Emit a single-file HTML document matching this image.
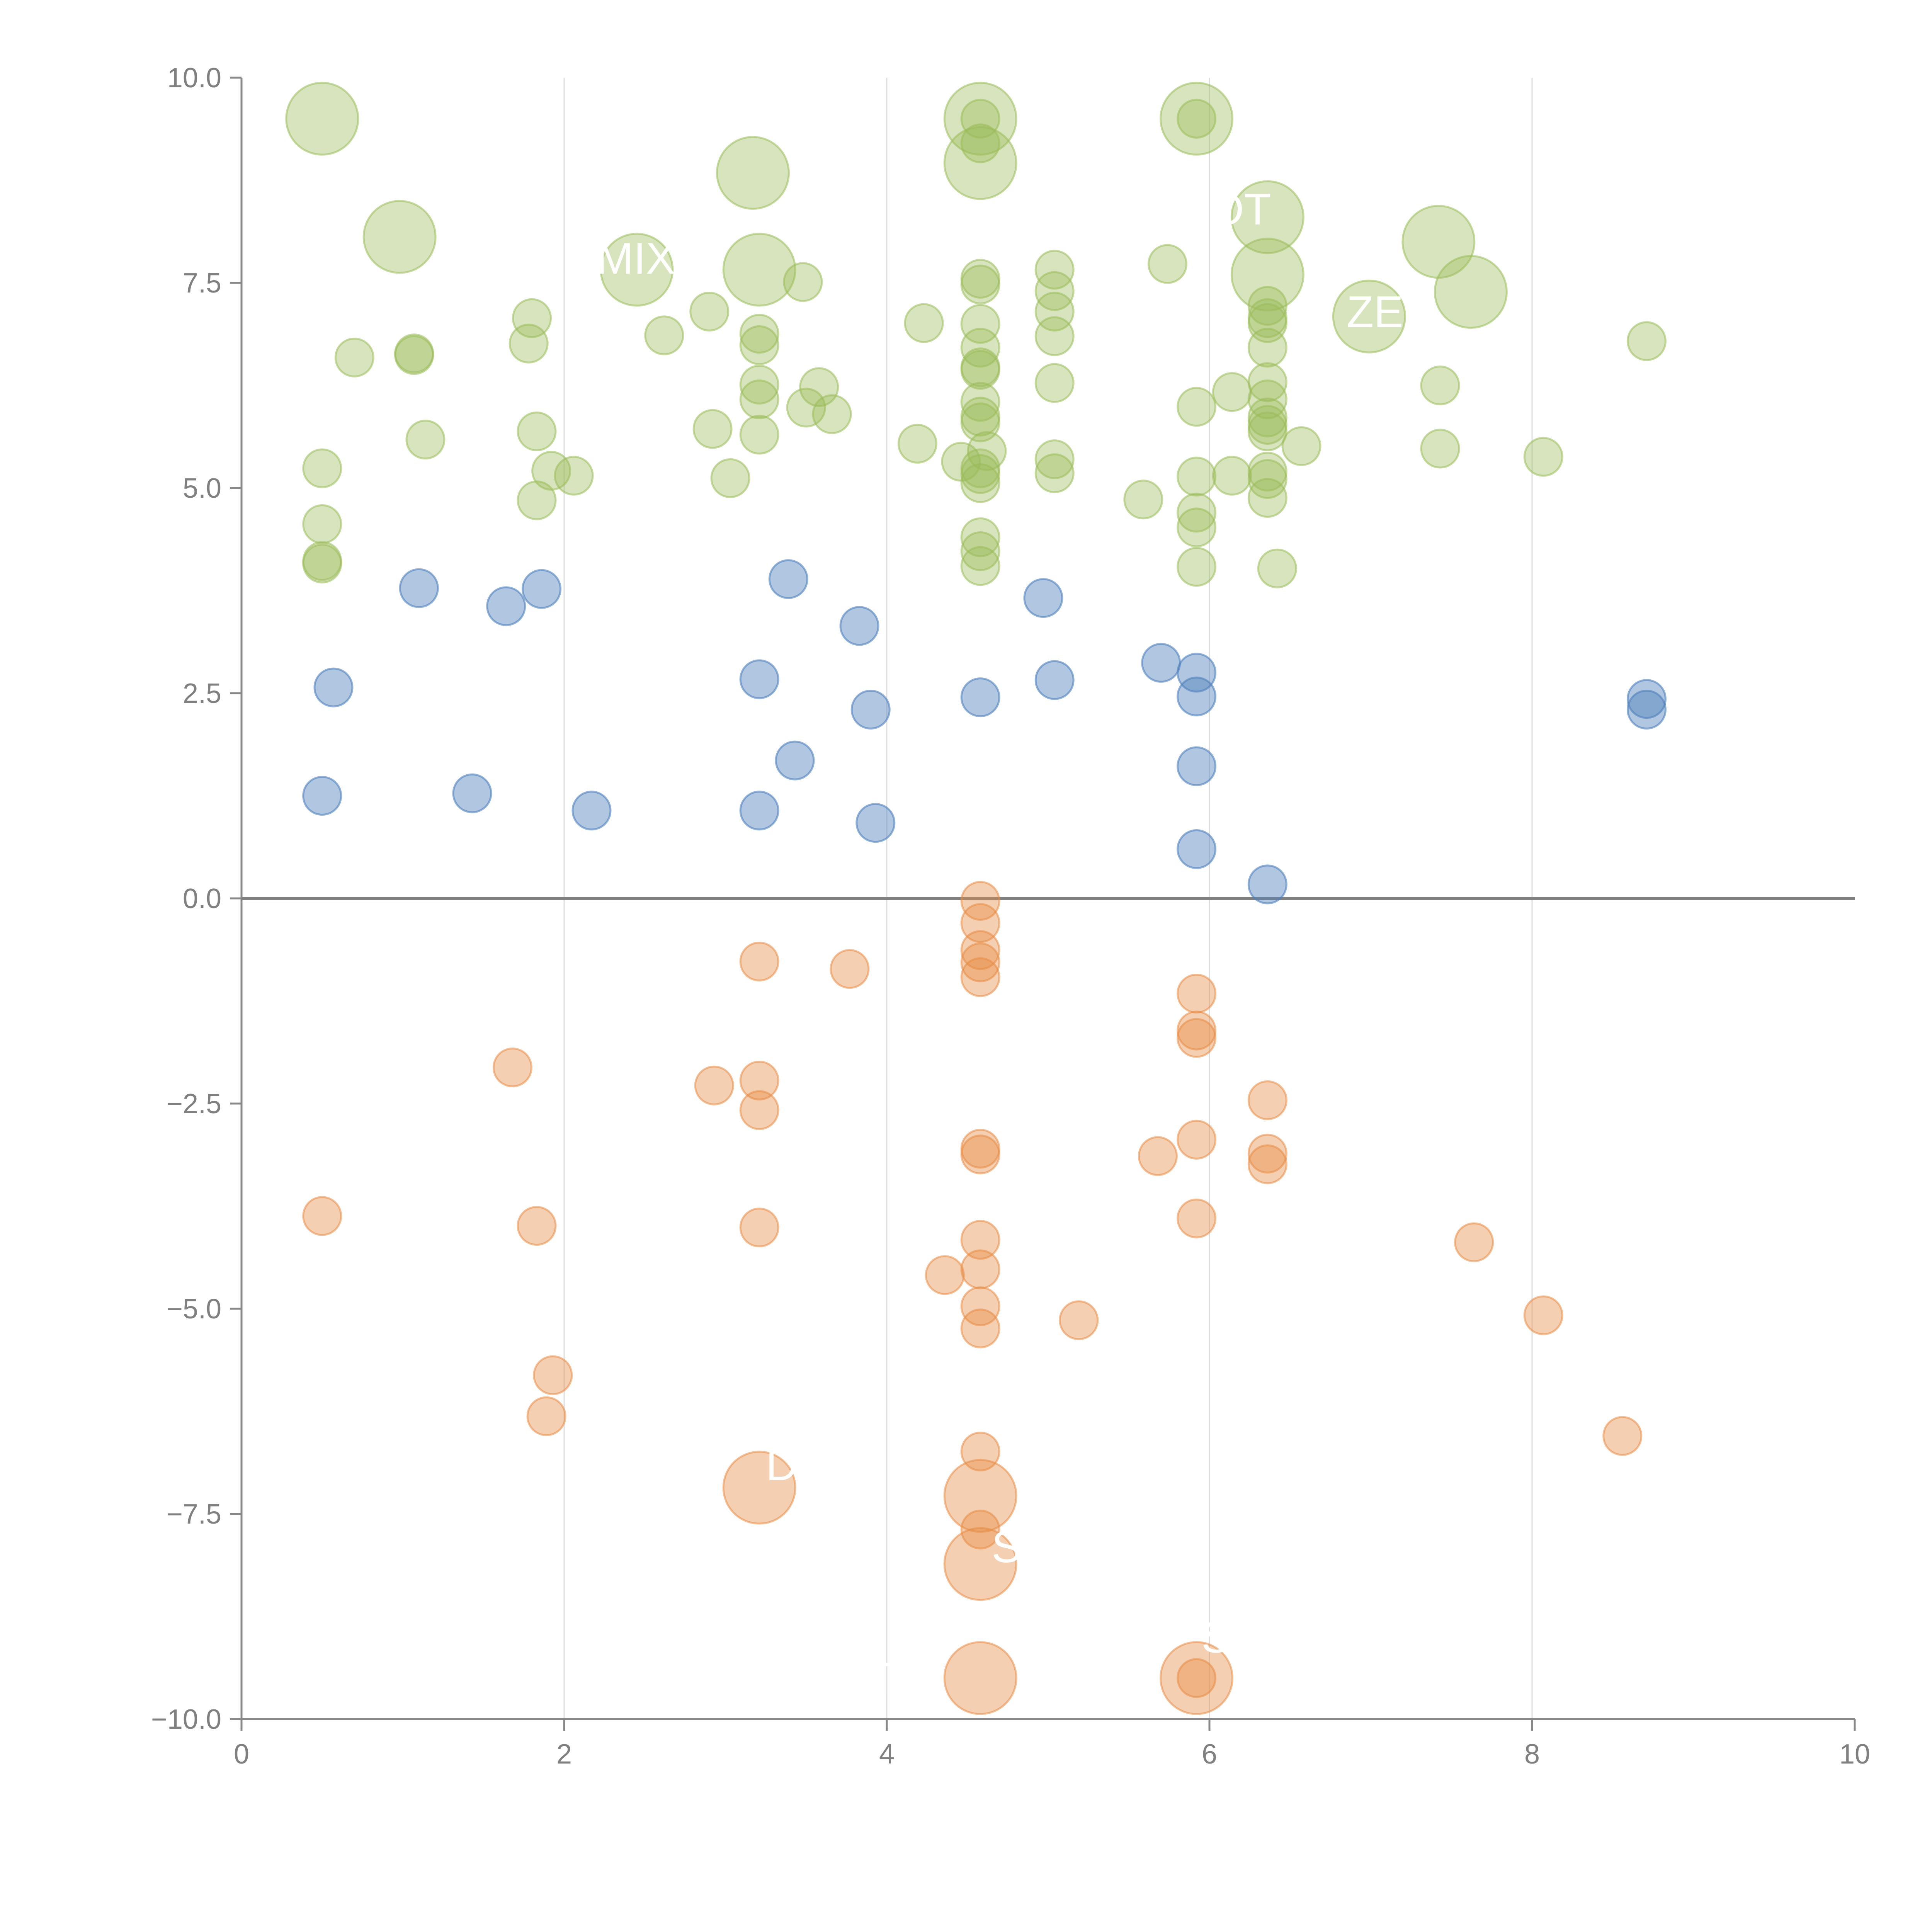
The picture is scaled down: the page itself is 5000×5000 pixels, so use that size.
<!DOCTYPE html>
<html><head><meta charset="utf-8"><style>
html,body{margin:0;padding:0;background:#fff;}
svg{display:block;font-family:"Liberation Sans",Arial,sans-serif;}
</style></head><body>
<svg id="chart" width="5000" height="5000" viewBox="0 0 5000 5000" xmlns="http://www.w3.org/2000/svg">
<g id="grid"></g>
<g id="axes"></g>
<g id="marks"></g>
<g id="labels"></g>
</svg>
<script>
const xTicks=[0,2,4,6,8,10];
const yTicks=[10,7.5,5,2.5,0,-2.5,-5,-7.5,-10];
const yTickLabels=["10.0","7.5","5.0","2.5","0.0","\u22122.5","\u22125.0","\u22127.5","\u221210.0"];
const greenX=[0.5,0.98,3.17,3.21,2.45,4.58,4.58,5.92,6.36,6.36,6.99,7.42,7.62,
0.70,1.07,1.07,0.5,0.5,0.5,0.5,1.14,1.80,1.78,1.83,1.92,2.06,1.83,2.62,2.9,2.92,3.03,3.21,3.21,3.21,3.21,3.21,3.48,3.58,3.5,3.66,4.23,4.19,4.46,
4.58,4.58,4.58,4.58,4.58,4.58,4.58,4.58,4.58,4.58,4.58,4.62,4.58,4.58,4.58,4.58,4.58,4.58,
5.04,5.04,5.04,5.04,5.04,5.04,5.04,5.59,5.74,5.92,5.92,5.92,5.92,5.92,5.92,6.14,6.14,
6.36,6.36,6.36,6.36,6.36,6.36,6.36,6.36,6.36,6.36,6.36,6.36,6.42,6.57,7.43,7.43,8.07,8.71];
const greenY=[9.5,8.06,8.84,7.66,7.66,9.5,8.96,9.5,8.3,7.6,7.09,8.0,7.39,
6.59,6.64,6.62,5.24,4.56,4.11,4.08,5.59,7.07,6.76,5.69,5.21,5.15,4.85,6.86,7.15,5.72,5.12,6.88,6.74,6.26,6.08,5.65,7.51,6.23,5.98,5.9,7.01,5.54,5.32,
9.5,9.2,7.55,7.48,7.0,6.71,6.47,6.44,6.05,5.87,5.8,5.45,5.24,5.17,5.06,4.4,4.23,4.05,
7.66,7.4,7.15,6.85,6.28,5.35,5.18,4.86,7.73,9.5,5.99,5.14,4.7,4.52,4.04,6.17,5.15,
7.22,7.07,7.01,6.71,6.29,6.08,5.86,5.77,5.69,5.2,5.11,4.88,4.02,5.51,6.25,5.48,5.38,6.79];
const greenSize=[2,2,2,2,2,2,2,2,2,2,2,2,2];
const blueX=[0.5,0.57,1.1,1.43,1.64,1.86,2.17,3.21,3.21,3.39,3.43,3.83,3.9,3.93,4.58,4.97,5.04,5.7,5.92,5.92,5.92,5.92,6.36,8.71,8.71];
const blueY=[1.25,2.57,3.78,1.28,3.56,3.77,1.07,2.67,1.07,3.89,1.68,3.32,2.3,0.92,2.45,3.66,2.66,2.87,2.75,2.46,1.61,0.6,0.17,2.43,2.3];
const orangeX=[3.21,4.58,4.58,4.58,5.92,
0.5,1.68,1.83,1.93,1.89,2.93,3.21,3.21,3.21,3.21,3.77,4.36,
4.58,4.58,4.58,4.58,4.58,4.58,4.58,4.58,4.58,4.58,4.58,4.58,4.58,
5.19,5.68,5.92,5.92,5.92,5.92,5.92,5.92,6.36,6.36,6.36,7.64,8.07,8.56];
const orangeY=[-7.18,-7.28,-8.11,-9.5,-9.5,
-3.87,-2.06,-3.99,-5.81,-6.31,-2.28,-0.77,-2.22,-2.58,-4.01,-0.86,-4.59,
-0.03,-0.3,-0.63,-0.78,-0.96,-3.05,-3.12,-4.16,-4.52,-4.97,-5.24,-6.74,-7.69,
-5.14,-3.14,-1.16,-1.61,-1.7,-2.94,-3.9,-9.5,-2.46,-3.11,-3.24,-4.19,-5.08,-6.55];
const orangeSize=[2,2,2,2,2];
const labelText=["MIX","OT","ZEN","D","S","T","S"];
const labelX=[2.2,6.0,6.85,3.25,4.65,3.9,5.95];
const labelY=[7.8,8.4,7.15,-6.9,-7.9,-9.5,-9.0];

const NS="http://www.w3.org/2000/svg";
const X0=625,X1=4800,Y0=4449,Y1=201;
function sx(v){return X0+(v-0)/(10-0)*(X1-X0);}
function sy(v){return Y0-(v+10)/20*(Y0-Y1);}
function mk(tag,attrs,parent){const e=document.createElementNS(NS,tag);for(const k in attrs)e.setAttribute(k,attrs[k]);parent.appendChild(e);return e;}
const grid=document.getElementById('grid'),axes=document.getElementById('axes'),marks=document.getElementById('marks'),labs=document.getElementById('labels');
[2,4,6,8].forEach(v=>{
 const l=mk('line',{x1:sx(v),x2:sx(v),y1:Y1,y2:Y0,stroke:'#dcdcdc','stroke-width':3},grid);
 
 
});
let a=mk('line',{x1:X0,x2:X0,y1:Y1,y2:Y0,stroke:'#888','stroke-width':5},axes);


a=mk('line',{x1:X0,x2:X1,y1:Y0,y2:Y0,stroke:'#888','stroke-width':5},axes);


a=mk('line',{x1:X0,x2:X1,y1:sy(0),y2:sy(0),stroke:'#808080','stroke-width':8},axes);


xTicks.forEach(v=>{
 let t=mk('line',{x1:sx(v),x2:sx(v),y1:Y0,y2:Y0+30,stroke:'#888','stroke-width':5},axes);
 
 
 let tx=mk('text',{x:sx(v),y:Y0+115,'text-anchor':'middle','font-size':72,fill:'#808080'},axes);
 tx.textContent=String(v);
 
 
});
yTicks.forEach((v,i)=>{
 let t=mk('line',{x1:X0-30,x2:X0,y1:sy(v),y2:sy(v),stroke:'#888','stroke-width':5},axes);
 
 
 let tx=mk('text',{x:X0-52,y:sy(v)+25,'text-anchor':'end','font-size':72,fill:'#808080'},axes);
 tx.textContent=yTickLabels[i];
 
 
});
function series(xs,ys,sizes,fill,stroke,name){
 xs.forEach((x,i)=>{
  const r=(sizes[i]||1)===2?93:49;
  const c=mk('circle',{cx:sx(x),cy:sy(ys[i]),r:r,fill:fill,stroke:stroke,'stroke-width':5},marks);
  
  
 });
}
series(greenX,greenY,greenSize,'rgba(155,187,89,0.4)','rgba(155,187,89,0.55)','green-bubble');
series(blueX,blueY,[],'rgba(79,129,189,0.45)','rgba(79,129,189,0.6)','blue-bubble');
series(orangeX,orangeY,orangeSize,'rgba(232,140,70,0.42)','rgba(232,140,70,0.55)','orange-bubble');
labelText.forEach((s,i)=>{
 const t=mk('text',{x:sx(labelX[i]),y:sy(labelY[i])+40,'font-size':115,fill:'#fff'},labs);
 t.textContent=s;
 
 
});
</script>
</body></html>
